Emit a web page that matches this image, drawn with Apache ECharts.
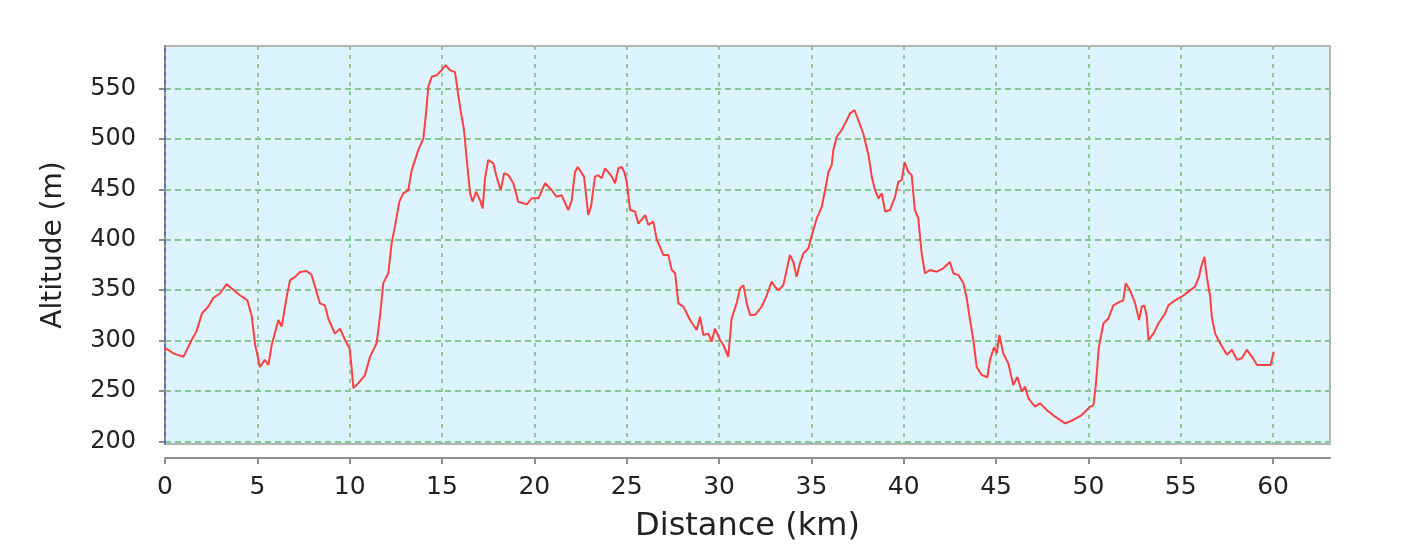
<!DOCTYPE html>
<html>
<head>
<meta charset="utf-8">
<script src="https://cdn.jsdelivr.net/npm/echarts@6/dist/echarts.min.js"></script>
<style>
html,body{margin:0;padding:0;background:#fff;}
#chart{width:1401px;height:558px;}
</style>
</head>
<body>
<div id="chart"></div>
<script>
const distanceKm = [0.0,0.05,0.45,1.0,1.44,1.7,2.0,2.35,2.6,2.98,3.34,3.6,4.06,4.46,4.7,4.87,5.14,5.4,5.6,5.78,6.14,6.32,6.59,6.77,7.04,7.31,7.67,7.94,8.2,8.39,8.66,8.84,9.2,9.48,9.75,9.84,10.0,10.1,10.2,10.29,10.47,10.83,11.1,11.46,11.64,11.82,12.09,12.27,12.45,12.69,12.9,13.17,13.36,13.72,13.99,14.13,14.26,14.44,14.71,14.98,15.2,15.43,15.7,15.79,15.97,16.19,16.34,16.52,16.66,16.84,17.06,17.2,17.33,17.5,17.78,17.96,18.18,18.36,18.59,18.86,19.13,19.59,19.86,20.22,20.58,20.94,21.2,21.48,21.84,22.02,22.2,22.35,22.56,22.69,22.83,22.92,23.07,23.28,23.46,23.65,23.83,24.0,24.19,24.37,24.55,24.73,24.87,25.0,25.18,25.45,25.63,26.0,26.17,26.44,26.63,26.8,26.98,27.25,27.44,27.62,27.8,28.07,28.43,28.79,28.97,29.15,29.42,29.6,29.78,30.05,30.23,30.5,30.68,30.95,31.14,31.32,31.5,31.68,31.95,32.31,32.58,32.85,33.03,33.21,33.48,33.66,33.84,34.02,34.2,34.38,34.57,34.84,35.0,35.29,35.56,35.74,35.92,36.1,36.19,36.37,36.64,36.82,37.09,37.33,37.54,37.81,38.09,38.27,38.45,38.63,38.81,38.99,39.26,39.53,39.71,39.89,40.05,40.25,40.43,40.6,40.79,40.97,41.15,41.42,41.79,42.14,42.5,42.69,42.96,43.23,43.41,43.59,43.77,43.95,44.22,44.53,44.67,44.89,45.04,45.18,45.39,45.66,45.93,46.15,46.39,46.57,46.75,47.11,47.38,47.74,48.19,48.74,49.18,49.64,50.09,50.27,50.4,50.56,50.81,51.08,51.35,51.71,51.89,52.02,52.25,52.53,52.74,52.89,53.03,53.16,53.25,53.52,53.79,54.15,54.33,54.69,55.05,55.41,55.77,55.99,56.1,56.28,56.41,56.59,56.68,56.86,57.13,57.5,57.77,58.04,58.31,58.58,58.86,59.13,59.58,59.86,60.04];
const altitudeM = [290,292.5,287.5,284,300.7,309,327,334,342,347,356,352,345,340,324,297,274,281,276,296,320.5,314,343.6,360,363,368,369,365,348.6,337,335,322,307,312,300.7,300,292,274,253,253,258,266,284,297.5,324,357,366.8,396.5,413,437.7,446,449,469,489,500.5,525,551.6,561.5,563,568,573,568,566,555,532,508.7,479,446,437.7,447.6,439,431,461,479,475.7,462,449,466,464,456,437.7,435,441,441,456,449,442.6,444,429.5,439,467,472,466,462.5,439,424.5,433,462.5,464,461,470.8,467,462.5,456,470.8,472,467,457.5,429.5,428,416,424.5,414.6,418,400,393,385,385,370,367,337,333.7,320.5,310.6,323.8,305.7,307,299,312,300.7,296,284,322,337,352,355,337,325.5,325.5,333.7,345,358.5,353.5,350,355,370,385,378,363.4,376.7,386.6,391.5,403,421,432.7,449,467,474,489,502,508.7,515,525,528.5,518.6,505,484,462.5,449,441,446,428,429.5,442.6,457.5,459,477,467,464,429.5,421,386.6,366.8,370,368.4,371.7,378,366.8,365,357,342,320.5,300.7,274,266,263.8,281,293.5,287.5,305.7,287.5,277.6,256,264,249.5,254.5,243,234.7,238,231.4,224.8,218.2,221.5,226.4,234.7,236,256,293,317,322,335,338.7,340,357,350,337,320.5,333.7,335,323.8,300.7,307,317,327,335,340,343.6,348.6,353.5,363.4,373,383,363.4,343.6,323.8,307,297.5,286,291,281,282.6,291,284,276,276,276,289];
const xTicks = [0,5,10,15,20,25,30,35,40,45,50,55,60];
const yTicks = [200,250,300,350,400,450,500,550];

const points = distanceKm.map((d, i) => [d, altitudeM[i]]);
const font = 'DejaVu Sans';
const axisGray = '#8e8e8e';
const gridGreen = '#84c793';

const chart = echarts.init(document.getElementById('chart'), null, {renderer: 'canvas'});
chart.setOption({
  animation: false,
  backgroundColor: '#ffffff',
  grid: {
    left: 165, right: 71, top: 46, bottom: 114,
    show: true, backgroundColor: '#ddf3fd',
    borderColor: '#b4b4b4', borderWidth: 2
  },
  xAxis: {
    type: 'value', min: 0, max: 63.08, offset: 14,
    name: 'Distance (km)', nameLocation: 'middle', nameGap: 53,
    nameTextStyle: {fontFamily: font, fontSize: 32, color: '#222'},
    axisLine: {show: true, lineStyle: {color: axisGray, width: 2}},
    axisTick: {show: true, length: 6, customValues: xTicks, lineStyle: {color: axisGray, width: 2}},
    axisLabel: {customValues: xTicks, margin: 17, fontFamily: font, fontSize: 25, color: '#222'},
    splitLine: {show: true, lineStyle: {color: gridGreen, width: 1.8, type: [4, 5]}}
  },
  yAxis: {
    type: 'value', min: 197.7, max: 591.9, offset: 14,
    name: 'Altitude (m)', nameLocation: 'middle', nameGap: 83,
    nameTextStyle: {fontFamily: font, fontSize: 28, color: '#222'},
    axisLine: {show: true, lineStyle: {color: axisGray, width: 2}},
    axisTick: {show: true, length: 6, customValues: yTicks, lineStyle: {color: axisGray, width: 2}},
    axisLabel: {customValues: yTicks, margin: 15, fontFamily: font, fontSize: 24, color: '#222'},
    splitLine: {show: true, lineStyle: {color: gridGreen, width: 1.8, type: [6, 4]}}
  },
  series: [{
    type: 'line',
    data: points,
    showSymbol: false,
    symbol: 'none',
    lineStyle: {color: '#ff4040', width: 2},
    markLine: {
      silent: true, symbol: 'none', label: {show: false},
      lineStyle: {color: '#5a63c4', type: [4, 4], width: 1.5},
      data: [{xAxis: 0}]
    }
  }]
});
</script>
</body>
</html>
